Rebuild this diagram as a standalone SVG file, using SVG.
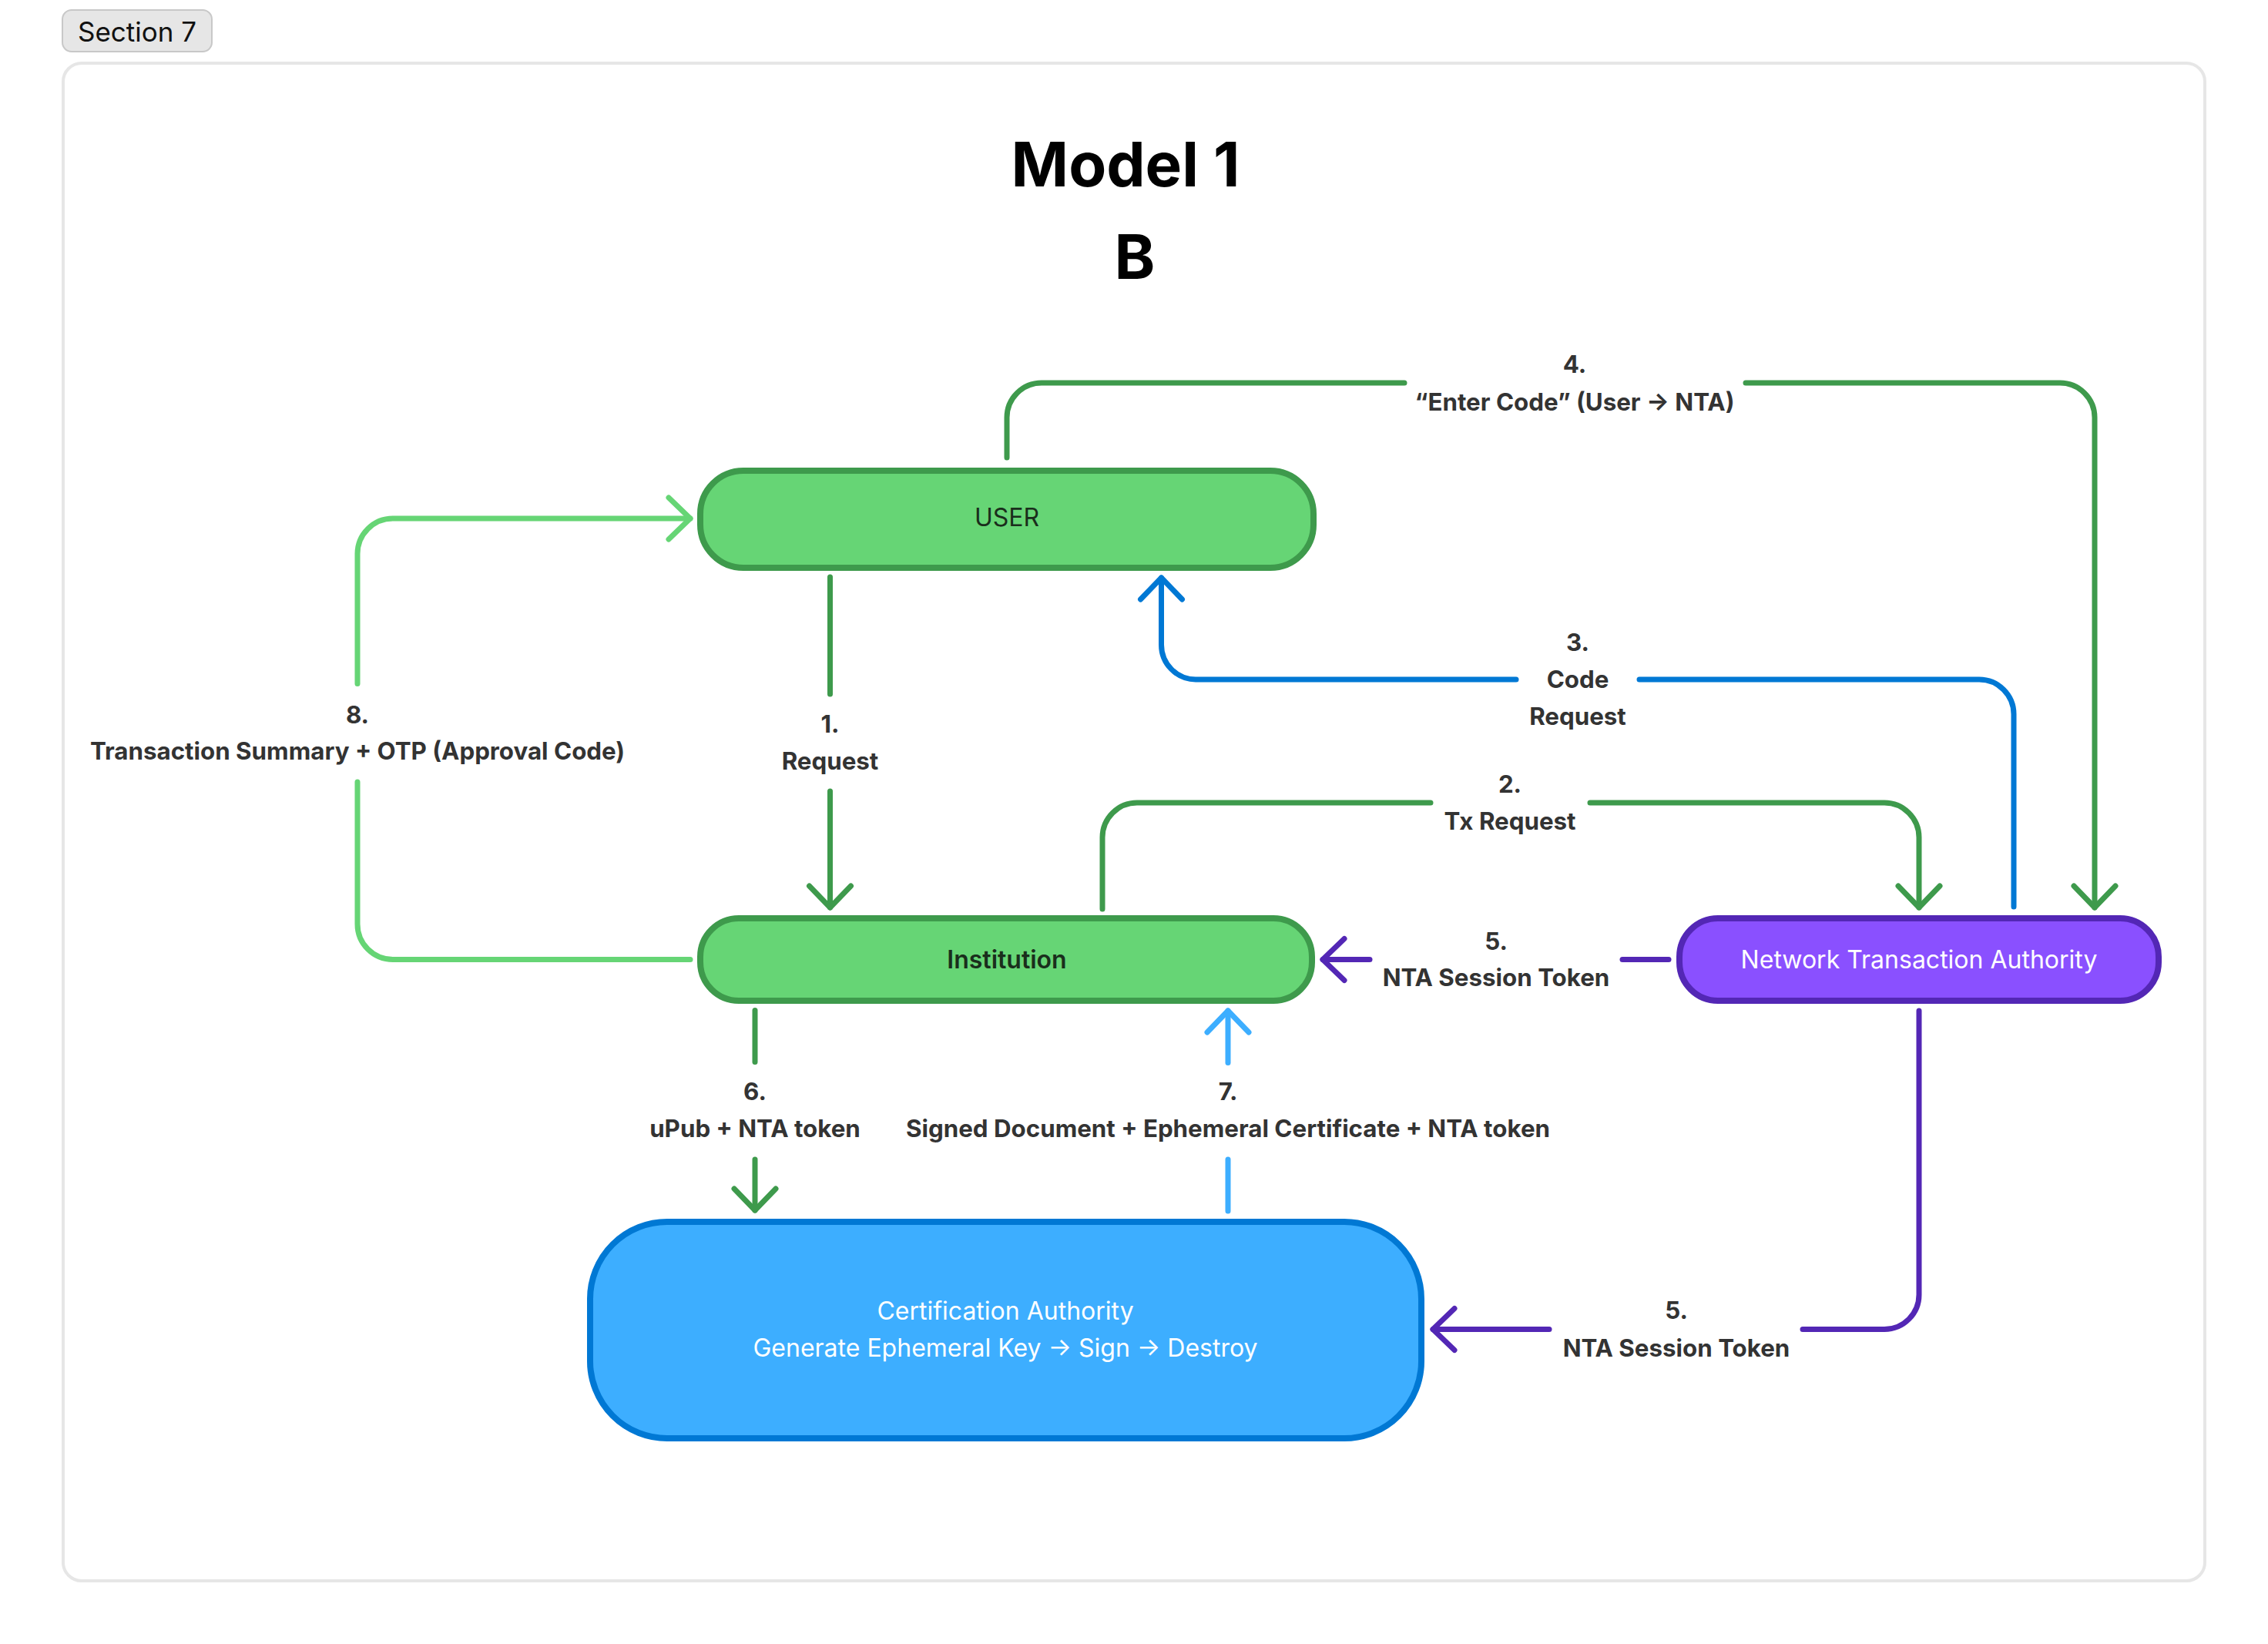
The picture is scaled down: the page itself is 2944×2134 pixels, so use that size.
<svg xmlns="http://www.w3.org/2000/svg" width="2944" height="2134" viewBox="0 0 2944 2134">
<style>
text{font-family:Inter,"Liberation Sans",sans-serif;}
.lbl{font-size:31.3px;font-weight:700;fill:#333333;text-anchor:middle;}
.node{font-size:32px;text-anchor:middle;}
.ln{fill:none;stroke-width:7;stroke-linecap:round;stroke-linejoin:round;}
.g{stroke:#3e9a4c;}
.lg{stroke:#66d575;}
.b{stroke:#0078d4;}
.lb{stroke:#3daeff;}
.p{stroke:#5327b5;}
</style>
<defs>
<marker id="mg" markerUnits="userSpaceOnUse" markerWidth="60" markerHeight="60" refX="0" refY="0" orient="auto" overflow="visible"><path d="M-28,-27 L0,0 L-28,27" fill="none" stroke="#3e9a4c" stroke-width="7" stroke-linecap="round" stroke-linejoin="round"/></marker>
<marker id="mlg" markerUnits="userSpaceOnUse" markerWidth="60" markerHeight="60" refX="0" refY="0" orient="auto" overflow="visible"><path d="M-28,-27 L0,0 L-28,27" fill="none" stroke="#66d575" stroke-width="7" stroke-linecap="round" stroke-linejoin="round"/></marker>
<marker id="mb" markerUnits="userSpaceOnUse" markerWidth="60" markerHeight="60" refX="0" refY="0" orient="auto" overflow="visible"><path d="M-28,-27 L0,0 L-28,27" fill="none" stroke="#0078d4" stroke-width="7" stroke-linecap="round" stroke-linejoin="round"/></marker>
<marker id="mlb" markerUnits="userSpaceOnUse" markerWidth="60" markerHeight="60" refX="0" refY="0" orient="auto" overflow="visible"><path d="M-28,-27 L0,0 L-28,27" fill="none" stroke="#3daeff" stroke-width="7" stroke-linecap="round" stroke-linejoin="round"/></marker>
<marker id="mp" markerUnits="userSpaceOnUse" markerWidth="60" markerHeight="60" refX="0" refY="0" orient="auto" overflow="visible"><path d="M-28,-27 L0,0 L-28,27" fill="none" stroke="#5327b5" stroke-width="7" stroke-linecap="round" stroke-linejoin="round"/></marker>
</defs>
<rect width="2944" height="2134" fill="#ffffff"/>
<g id="section">
<rect x="81" y="13" width="194" height="54" rx="12" fill="#e6e6e6" stroke="#c8c8c8" stroke-width="2"/>
<text x="178" y="54" font-size="35" fill="#111111" text-anchor="middle">Section 7</text>
<rect x="82" y="82" width="2780" height="1970" rx="24" fill="none" stroke="#e6e6e6" stroke-width="4"/>
</g>
<g id="title">
<text x="1461" y="242" font-size="80" font-weight="700" fill="#000000" text-anchor="middle">Model 1</text>
<text x="1473" y="362" font-size="80" font-weight="700" fill="#000000" text-anchor="middle">B</text>
</g>
<g id="connectors">
<!-- 1 -->
<path class="ln g" d="M1077.5 749 L1077.5 901"/>
<path class="ln g" d="M1077.5 1027 L1077.5 1178" marker-end="url(#mg)"/>
<text class="lbl" x="1077.5" y="951">1.</text>
<text class="lbl" x="1077.5" y="999">Request</text>
<!-- 2 -->
<path class="ln g" d="M1431 1180 L1431 1087 A45 45 0 0 1 1476 1042 L1857 1042"/>
<path class="ln g" d="M2064 1042 L2446 1042 A45 45 0 0 1 2491 1087 L2491 1178" marker-end="url(#mg)"/>
<text class="lbl" x="1960" y="1029">2.</text>
<text class="lbl" x="1960" y="1077">Tx Request</text>
<!-- 3 -->
<path class="ln b" d="M2614 1177 L2614 927 A45 45 0 0 0 2569 882 L2128 882"/>
<path class="ln b" d="M1968 882 L1552 882 A45 45 0 0 1 1507.5 837 L1507.5 750" marker-end="url(#mb)"/>
<text class="lbl" x="2048" y="845">3.</text>
<text class="lbl" x="2048" y="893">Code</text>
<text class="lbl" x="2048" y="941">Request</text>
<!-- 4 -->
<path class="ln g" d="M1307 594 L1307 542 A45 45 0 0 1 1352 497 L1823 497"/>
<path class="ln g" d="M2266 497 L2674 497 A45 45 0 0 1 2719 542 L2719 1178" marker-end="url(#mg)"/>
<text class="lbl" x="2044" y="484">4.</text>
<text class="lbl" x="2044" y="533">“Enter Code” (User → NTA)</text>
<!-- 5 NTA to Institution -->
<path class="ln p" d="M2166 1245.5 L2106 1245.5"/>
<path class="ln p" d="M1778 1245.5 L1717 1245.5" marker-end="url(#mp)"/>
<text class="lbl" x="1942" y="1233">5.</text>
<text class="lbl" x="1942" y="1280">NTA Session Token</text>
<!-- 5 NTA to CA -->
<path class="ln p" d="M2491 1312 L2491 1680 A45 45 0 0 1 2446 1725.5 L2340 1725.5"/>
<path class="ln p" d="M2011 1725.5 L1860 1725.5" marker-end="url(#mp)"/>
<text class="lbl" x="2176" y="1712">5.</text>
<text class="lbl" x="2176" y="1761">NTA Session Token</text>
<!-- 6 -->
<path class="ln g" d="M980 1311.5 L980 1378.5"/>
<path class="ln g" d="M980 1505 L980 1571" marker-end="url(#mg)"/>
<text class="lbl" x="980" y="1428">6.</text>
<text class="lbl" x="980" y="1476">uPub + NTA token</text>
<!-- 7 -->
<path class="ln lb" d="M1594 1572 L1594 1505"/>
<path class="ln lb" d="M1594 1379.5 L1594 1312" marker-end="url(#mlb)"/>
<text class="lbl" x="1594" y="1428">7.</text>
<text class="lbl" x="1594" y="1476">Signed Document + Ephemeral Certificate + NTA token</text>
<!-- 8 -->
<path class="ln lg" d="M896 1245.5 L510 1245.5 A46 46 0 0 1 464 1199.5 L464 1015"/>
<path class="ln lg" d="M464 887.5 L464 719 A46 46 0 0 1 510 673 L896 673" marker-end="url(#mlg)"/>
<text class="lbl" x="464" y="939">8.</text>
<text class="lbl" x="464" y="986">Transaction Summary + OTP (Approval Code)</text>
</g>
<g id="user">
<rect x="909" y="611" width="796" height="126" rx="56" fill="#66d575" stroke="#3e9a4c" stroke-width="8"/>
<text class="node" x="1307" y="683" fill="#1a2e1c">USER</text>
</g>
<g id="institution">
<rect x="909" y="1192" width="794" height="107" rx="50" fill="#66d575" stroke="#3e9a4c" stroke-width="8"/>
<text class="node" x="1307" y="1257" fill="#1a2e1c" font-weight="600">Institution</text>
</g>
<g id="nta">
<rect x="2180" y="1192" width="622" height="107" rx="50" fill="#8a50ff" stroke="#5327b5" stroke-width="8"/>
<text class="node" x="2491" y="1257" fill="#ffffff">Network Transaction Authority</text>
</g>
<g id="ca">
<rect x="766" y="1586" width="1079" height="281" rx="100" fill="#3daeff" stroke="#0078d4" stroke-width="8"/>
<text class="node" x="1305" y="1713" fill="#ffffff">Certification Authority</text>
<text class="node" x="1305" y="1761" fill="#ffffff">Generate Ephemeral Key → Sign → Destroy</text>
</g>
</svg>
